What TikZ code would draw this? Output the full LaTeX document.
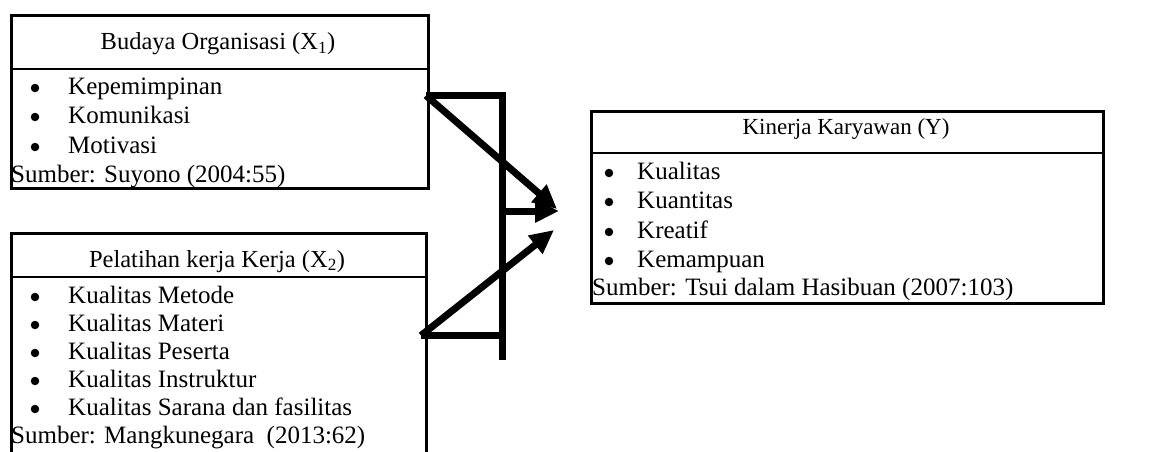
\documentclass[tikz,border=0pt]{standalone}
\usepackage{fontspec}
\setmainfont{Liberation Serif}
\usetikzlibrary{arrows.meta}
\begin{document}
\begin{tikzpicture}[x=1pt,y=-1pt,
  box/.style={draw, line width=2.6pt, inner sep=0pt, anchor=north west},
  sep/.style={line width=2.4pt},
  txt/.style={font=\fontsize{25}{30}\selectfont, inner sep=0pt, anchor=base west},
  hdr/.style={font=\fontsize{24.5}{30}\selectfont, inner sep=0pt, anchor=base},
  bul/.style={circle, fill, draw=none, inner sep=0pt, minimum size=8.5pt},
  conn/.style={line width=7pt, line join=miter},
  arr/.style={line width=7pt, -{Triangle[length=24pt,width=22pt]}}]
\useasboundingbox (0,0) rectangle (1167,452);
\clip (0,0) rectangle (1167,452);

% Box X1
\node[box, minimum width=417pt, minimum height=173pt] (b1) at (10,14) {};
\draw[sep] (10,69) -- (427,69);
\node[hdr] (h1) at (218,50) {Budaya Organisasi (X\textsubscript{1})};
\node[bul] (b1i1) at (35,88) {};
\node[txt] (t1i1) at (68,94) {Kepemimpinan};
\node[bul] (b1i2) at (35,117) {};
\node[txt] (t1i2) at (68,123) {Komunikasi};
\node[bul] (b1i3) at (35,147) {};
\node[txt] (t1i3) at (68,153) {Motivasi};
\node[txt] (s1) at (11,182) {Sumber: Suyono (2004:55)};

% Box X2
\node[box, minimum width=415pt, minimum height=250pt] (b2) at (10,232) {};
\draw[sep] (10,277) -- (425,277);
\node[hdr] (h2) at (217,267) {Pelatihan kerja Kerja (X\textsubscript{2})};
\node[bul] (b2i1) at (35,297) {};
\node[txt] (t2i1) at (68,303) {Kualitas Metode};
\node[bul] (b2i2) at (35,325) {};
\node[txt] (t2i2) at (68,331) {Kualitas Materi};
\node[bul] (b2i3) at (35,353) {};
\node[txt] (t2i3) at (68,359) {Kualitas Peserta};
\node[bul] (b2i4) at (35,381) {};
\node[txt] (t2i4) at (68,387) {Kualitas Instruktur};
\node[bul] (b2i5) at (35,409) {};
\node[txt] (t2i5) at (68,415) {Kualitas Sarana dan fasilitas};
\node[txt] (s2) at (11,443) {Sumber: Mangkunegara\ \ (2013:62)};

% Box Y
\node[box, minimum width=512pt, minimum height=192pt] (b3) at (590,110) {};
\draw[sep] (590,153) -- (1102,153);
\node[hdr, font=\fontsize{23}{30}\selectfont] (h3) at (846,134) {Kinerja Karyawan (Y)};
\node[bul] (b3i1) at (609,173) {};
\node[txt] (t3i1) at (637,179) {Kualitas};
\node[bul] (b3i2) at (609,202) {};
\node[txt] (t3i2) at (637,208) {Kuantitas};
\node[bul] (b3i3) at (609,232) {};
\node[txt] (t3i3) at (637,238) {Kreatif};
\node[bul] (b3i4) at (609,261) {};
\node[txt] (t3i4) at (637,267) {Kemampuan};
\node[txt] (s3) at (592,295) {Sumber: Tsui dalam Hasibuan (2007:103)};

% connectors
\coordinate (a1s) at (426,95.5);
\coordinate (bartop) at (502.5,95.5);
\coordinate (barbot) at (502.5,360);
\coordinate (barmid) at (502.5,211);
\coordinate (a2s) at (421,335.5);
\coordinate (barlow) at (502.5,335.5);
\coordinate (tip1) at (557,209);
\coordinate (tipm) at (559,211);
\coordinate (tip2) at (554,230);

\draw[conn] (a1s) -- (bartop) -- (barbot);
\draw[conn] (a2s) -- (barlow);
\draw[arr] (a1s) -- (tip1);
\draw[arr] (barmid) -- (tipm);
\draw[arr] (a2s) -- (tip2);
\end{tikzpicture}
\end{document}
